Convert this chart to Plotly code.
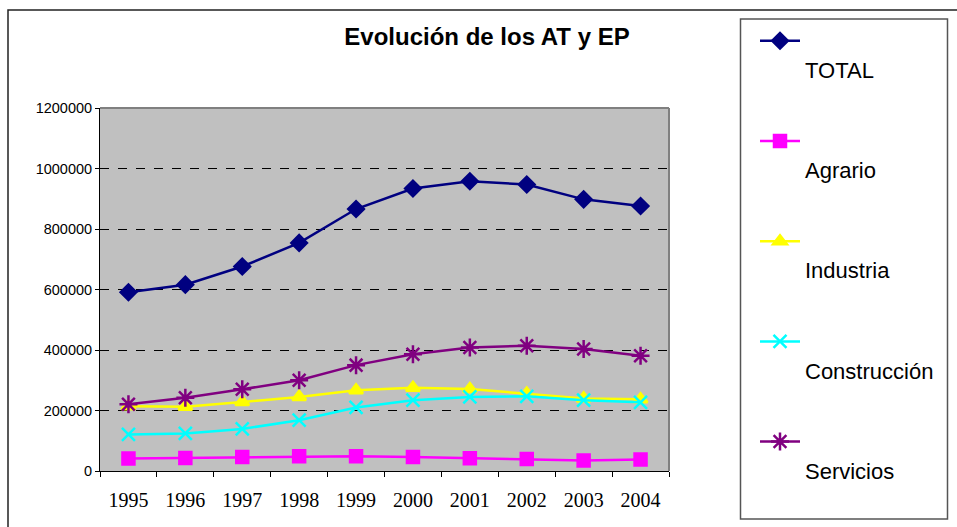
import plotly.graph_objects as go

years = ["1995", "1996", "1997", "1998", "1999", "2000", "2001", "2002", "2003", "2004"]
total = [591000, 616000, 676000, 754000, 866000, 934000, 958000, 947000, 898000, 876000]
agrario = [41000, 43000, 46000, 49000, 49000, 46000, 42000, 40000, 35000, 38000]
industria = [214000, 212000, 228000, 245000, 267000, 275000, 271000, 256000, 240000, 237000]
construccion = [121000, 124000, 139000, 168000, 210000, 234000, 245000, 247000, 234000, 227000]
servicios = [221000, 242000, 270000, 300000, 350000, 386000, 408000, 414000, 403000, 381000]

series = [
    ("TOTAL", total, "#000080", "diamond", 12),
    ("Agrario", agrario, "#FF00FF", "square", 12),
    ("Industria", industria, "#FFFF00", "triangle-up", 12),
    ("Construcción", construccion, "#00FFFF", "x-thin-open", 13),
    ("Servicios", servicios, "#800080", "asterisk-open", 15),
]

fig = go.Figure()
for i, (name, vals, color, sym, size) in enumerate(series):
    fig.add_trace(go.Scatter(
        x=years, y=vals, name="<br>" + name, mode="lines+markers",
        line=dict(color=color, width=2.5),
        marker=dict(symbol=sym, size=size, color=color,
                    line=dict(color=color, width=2.5)),
        legendgroup=f"g{i}",
    ))

L, R, T, B = 100, 288, 108, 56
W, H = 957, 527
pw = W - L - R
ph = H - T - B

def px_x(p):
    return (p - L) / pw

def px_y(p):
    return (H - B - p) / ph

fig.update_layout(
    width=W, height=H,
    margin=dict(l=L, r=R, t=T, b=B),
    paper_bgcolor="white",
    plot_bgcolor="#C0C0C0",
    title=dict(text="<b>Evolución de los AT y EP</b>", x=487 / W, xref="container",
               y=1 - 37 / H, yref="container", xanchor="center", yanchor="middle",
               font=dict(family="Liberation Sans", size=24, color="black")),
    showlegend=True,
    legend=dict(x=755 / W, xref="container", y=1 - 20 / H, yref="container",
                xanchor="left", yanchor="top", valign="top",
                font=dict(family="Liberation Sans", size=22, color="black"),
                tracegroupgap=40, bgcolor="rgba(0,0,0,0)", itemwidth=40,
                maxheight=500),
    xaxis=dict(type="category", range=[-0.5, 9.5], showline=True, linecolor="black",
               linewidth=1, ticks="outside", tickson="boundaries", ticklen=5,
               tickcolor="black", showgrid=False,
               tickfont=dict(family="Liberation Serif", size=20, color="black"),
               ticklabelstandoff=11),
    yaxis=dict(range=[0, 1200000], dtick=200000, showline=True, linecolor="black",
               linewidth=1, ticks="outside", ticklen=4, tickcolor="black",
               showgrid=True, gridcolor="black", griddash="dash", gridwidth=1,
               zeroline=False, tickformat="d",
               tickfont=dict(family="Liberation Sans", size=14.5, color="black")),
    shapes=[
        dict(type="line", xref="x domain", yref="y domain", x0=0, x1=1, y0=1, y1=1,
             line=dict(color="#808080", width=2), layer="above"),
        dict(type="line", xref="x domain", yref="y domain", x0=1, x1=1, y0=0, y1=1,
             line=dict(color="#808080", width=2), layer="above"),
        dict(type="rect", xref="paper", yref="paper", x0=px_x(8), x1=px_x(990),
             y0=px_y(560), y1=px_y(10), line=dict(color="#222222", width=1.5)),
        dict(type="rect", xref="paper", yref="paper", x0=px_x(740.5), x1=px_x(947.5),
             y0=px_y(519), y1=px_y(19), line=dict(color="#555555", width=1.5)),
    ],
)

fig.write_html("out.html", config={"displayModeBar": False},
               post_script="document.body.style.margin='0';")
